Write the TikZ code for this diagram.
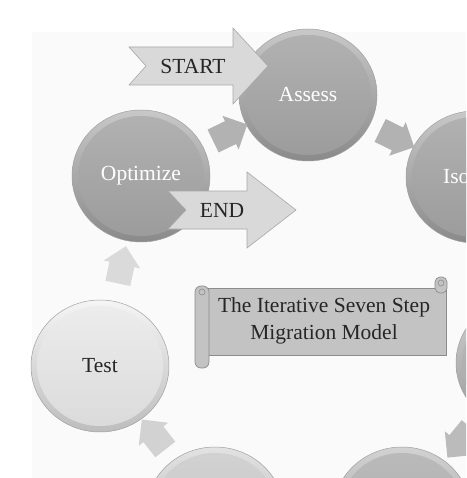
\documentclass[tikz,border=0pt]{standalone}
\usepackage{fontspec}
\setmainfont{Liberation Serif}
\usetikzlibrary{shapes.geometric,shapes.arrows}
\definecolor{bgc}{HTML}{FAFAFA}
\definecolor{dkRt}{HTML}{C8C8C8}\definecolor{dkRb}{HTML}{8A8A8A}
\definecolor{dkIt}{HTML}{B2B2B2}\definecolor{dkIb}{HTML}{9B9B9B}
\definecolor{mdRt}{HTML}{D2D2D2}\definecolor{mdRb}{HTML}{979797}
\definecolor{mdIt}{HTML}{BBBBBB}\definecolor{mdIb}{HTML}{A7A7A7}
\definecolor{lmRt}{HTML}{E2E2E2}\definecolor{lmRb}{HTML}{AEAEAE}
\definecolor{lmIt}{HTML}{D2D2D2}\definecolor{lmIb}{HTML}{C3C3C3}
\definecolor{ltRt}{HTML}{F5F5F5}\definecolor{ltRb}{HTML}{BDBDBD}
\definecolor{ltIt}{HTML}{EDEDED}\definecolor{ltIb}{HTML}{DADADA}
\definecolor{edgec}{HTML}{A0A0A0}
\definecolor{bigA}{HTML}{D9D9D9}\definecolor{bigE}{HTML}{A8A8A8}
\definecolor{scrF}{HTML}{C3C3C3}\definecolor{scrE}{HTML}{8C8C8C}
\definecolor{txt}{HTML}{262626}
\tikzset{
  lbl/.style={font=\fontsize{21.5}{27}\selectfont},
  circ/.style={ellipse, minimum width=138pt, minimum height=132pt, inner sep=0pt, line width=0.5pt, draw=edgec, lbl},
  darkc/.style={circ, top color=dkRt, bottom color=dkRb, text=white,
    path picture={\shade[top color=dkIt, bottom color=dkIb] (path picture bounding box.center) ellipse [x radius=63pt, y radius=60pt];}},
  midc/.style={circ, top color=mdRt, bottom color=mdRb, text=white,
    path picture={\shade[top color=mdIt, bottom color=mdIb] (path picture bounding box.center) ellipse [x radius=63pt, y radius=60pt];}},
  lmidc/.style={circ, top color=lmRt, bottom color=lmRb, text=txt,
    path picture={\shade[top color=lmIt, bottom color=lmIb] (path picture bounding box.center) ellipse [x radius=63pt, y radius=60pt];}},
  lightc/.style={circ, top color=ltRt, bottom color=ltRb, text=txt,
    path picture={\shade[top color=ltIt, bottom color=ltIb] (path picture bounding box.center) ellipse [x radius=63pt, y radius=60pt];}},
  sarrow/.style={single arrow, minimum height=38pt, inner xsep=0pt, inner ysep=12.5pt, single arrow head extend=6pt, fill=#1, sloped, allow upside down},
  bigarrow/.style={fill=bigA, draw=bigE, line width=0.6pt, line join=miter},
  scrollst/.style={fill=scrF, draw=scrE, line width=0.7pt},
}
\begin{document}
\begin{tikzpicture}[x=1pt,y=-1pt]
\useasboundingbox (0,0) rectangle (466,478);
\clip (0,0) rectangle (466,478);
\fill[white] (0,0) rectangle (466,478);
\fill[bgc] (32,32) rectangle (466,478);
% circles
\node[darkc] (assess) at (308,95) {Assess};
\node[darkc] (isolate) at (475,177) {};
\node[midc] (map) at (525,363) {};
\node[midc] (rearch) at (402,513) {};
\node[lmidc] (augment) at (215,513) {};
\node[lightc] (test) at (100,366) {Test};
\node[darkc] (optimize) at (141,176) {Optimize};
\node[lbl, text=white, anchor=west, inner sep=0pt] (isolbl) at (443,177) {Iso};
% small cycle arrows
\path (optimize) -- node[sarrow=dkIt] (a1) {} (assess);
\path (assess) -- node[sarrow=dkIt] (a2) {} (isolate);
\path (map) -- node[sarrow=mdIt] (a3) {} (rearch);
\path (augment) -- node[sarrow=lmIt] (a4) {} (test);
\path (test) -- node[sarrow=ltIb] (a5) {} (optimize);
% START / END arrows
\filldraw[bigarrow] (129,47) -- (233,47) -- (233,28) -- (268,66) -- (233,104) -- (233,85) -- (129,85) -- (146,66) -- cycle;
\node[lbl, text=txt] (startlbl) at (193,66) {START};
\filldraw[bigarrow] (168,191) -- (247,191) -- (247,172) -- (296,210) -- (247,248) -- (247,229) -- (168,229) -- (186,210) -- cycle;
\node[lbl, text=txt] (endlbl) at (222,210) {END};
% scroll
\filldraw[scrollst] (205,288) rectangle (446,355);
\filldraw[scrollst, rounded corners=5pt] (435,277) rectangle (447,293);
\draw[scrE, line width=0.6pt] (441,283) circle [radius=3pt];
\filldraw[scrollst, rounded corners=6pt] (195,286) rectangle (209,368);
\draw[scrE, line width=0.6pt] (202,292) circle [radius=3pt];
\node[lbl, text=txt, align=center] (title) at (324,321) {The Iterative Seven Step\\Migration Model};
\end{tikzpicture}
\end{document}
